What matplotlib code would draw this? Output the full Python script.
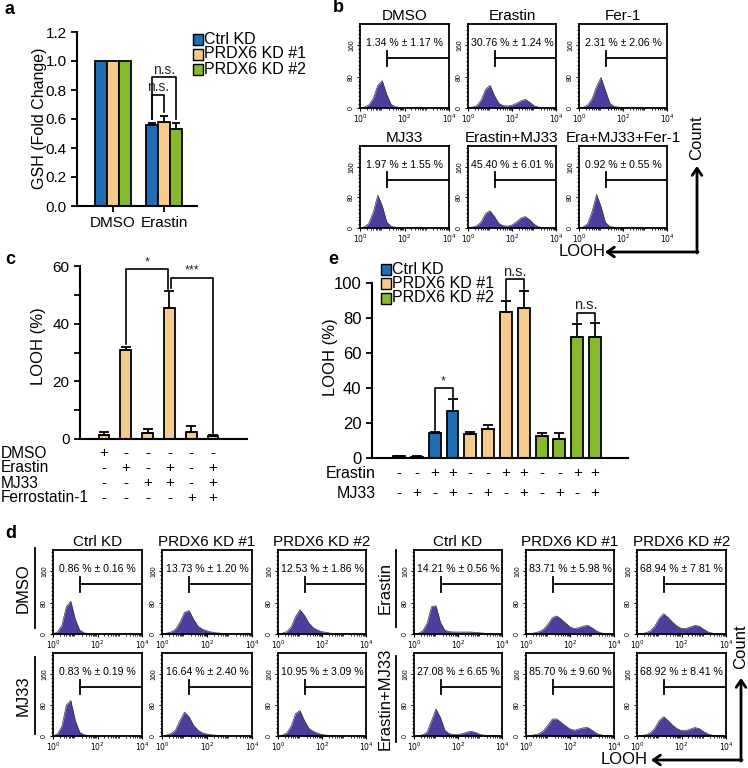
import numpy as np
import matplotlib.pyplot as plt
from matplotlib.patches import Rectangle
from matplotlib.transforms import blended_transform_factory as blend
from matplotlib.ticker import FixedLocator, LogLocator, NullFormatter

plt.rcParams['font.family'] = ['Liberation Sans', 'DejaVu Sans']

# ---- data ----
groups = ['Ctrl KD', 'PRDX6 KD #1', 'PRDX6 KD #2']
colors = ['#1f6db3', '#f4cb8b', '#86b92c']

# a: GSH fold change
gsh_treat = ['DMSO', 'Erastin']
gsh_mean = [[1.0, 1.0, 1.0], [0.56, 0.58, 0.53]]
gsh_err = [[0, 0, 0], [0.01, 0.04, 0.045]]

# b / c: LOOH (%) with inhibitors
c_names = ['DMSO', 'Erastin', 'MJ33', 'Erastin+MJ33', 'Fer-1', 'Era+MJ33+Fer-1']
c_mean = [1.34, 30.76, 1.97, 45.40, 2.31, 0.92]
c_sd = [1.17, 1.24, 1.55, 6.01, 2.06, 0.55]
c_rows = ['DMSO', 'Erastin', 'MJ33', 'Ferrostatin-1']
c_signs = [['+', '-', '-', '-', '-', '-'],
           ['-', '+', '-', '+', '-', '+'],
           ['-', '-', '+', '+', '-', '+'],
           ['-', '-', '-', '-', '+', '+']]
b_order = [0, 1, 4, 2, 3, 5]

# d / e: LOOH (%) per knockdown; conditions DMSO, MJ33, Erastin, Erastin+MJ33
e_mean = [[0.86, 0.83, 14.21, 27.08],
          [13.73, 16.64, 83.71, 85.70],
          [12.53, 10.95, 68.94, 68.92]]
e_sd = [[0.16, 0.19, 0.56, 6.65],
        [1.20, 2.40, 5.98, 9.60],
        [1.86, 3.09, 7.81, 8.41]]
e_erastin = ['-', '-', '+', '+']
e_mj33 = ['-', '+', '-', '+']

# flow histograms: counts at log10(LOOH) = 0, 0.2, ..., 4.0
hist_grid = np.linspace(0, 4, 21)
hist_c = [
    [0, 2, 8, 25, 58, 70, 35, 9, 3, 1, 0, 0, 0, 0, 0, 0, 0, 0, 0, 0, 0],
    [0, 2, 6, 20, 48, 58, 32, 12, 6, 5, 7, 12, 18, 22, 15, 6, 2, 1, 0, 0, 0],
    [0, 3, 12, 42, 86, 58, 16, 4, 2, 1, 0, 0, 0, 0, 0, 0, 0, 0, 0, 0, 0],
    [0, 2, 6, 16, 38, 45, 30, 12, 6, 5, 8, 16, 26, 30, 22, 10, 3, 1, 0, 0, 0],
    [0, 2, 8, 24, 55, 78, 45, 12, 4, 2, 1, 0, 0, 0, 0, 0, 0, 0, 0, 0, 0],
    [0, 3, 12, 44, 88, 56, 15, 4, 2, 1, 0, 0, 0, 0, 0, 0, 0, 0, 0, 0, 0],
]
hist_d = [
    [[0, 5, 22, 70, 84, 38, 10, 3, 1, 0, 0, 0, 0, 0, 0, 0, 0, 0, 0, 0, 0],
     [0, 5, 25, 80, 92, 40, 10, 3, 1, 0, 0, 0, 0, 0, 0, 0, 0, 0, 0, 0, 0],
     [0, 2, 8, 28, 70, 72, 30, 10, 6, 5, 5, 5, 5, 5, 4, 3, 2, 1, 0, 0, 0],
     [0, 1, 3, 10, 40, 70, 48, 15, 6, 4, 4, 6, 10, 12, 9, 4, 2, 1, 0, 0, 0]],
    [[0, 2, 5, 12, 30, 55, 60, 38, 20, 12, 8, 5, 3, 2, 1, 0, 0, 0, 0, 0, 0],
     [0, 2, 6, 15, 40, 62, 50, 28, 15, 8, 5, 3, 2, 1, 0, 0, 0, 0, 0, 0, 0],
     [0, 1, 3, 6, 12, 25, 42, 46, 38, 28, 18, 14, 16, 20, 22, 16, 8, 3, 1, 0, 0],
     [0, 1, 3, 6, 14, 28, 44, 44, 35, 26, 18, 15, 18, 21, 22, 15, 7, 3, 1, 0, 0]],
    [[0, 2, 6, 18, 45, 62, 48, 28, 16, 10, 6, 4, 2, 1, 0, 0, 0, 0, 0, 0, 0],
     [0, 2, 8, 25, 58, 66, 40, 20, 12, 7, 4, 2, 1, 0, 0, 0, 0, 0, 0, 0, 0],
     [0, 1, 3, 8, 20, 40, 52, 42, 30, 20, 14, 14, 18, 22, 20, 12, 5, 2, 1, 0, 0],
     [0, 1, 3, 8, 20, 40, 50, 40, 28, 19, 14, 14, 18, 22, 19, 11, 5, 2, 1, 0, 0]],
]

W, H = 748, 768
fig = plt.figure(figsize=(W / 100, H / 100), dpi=100)
ov = fig.add_axes([0, 0, 1, 1])
ov.set_xlim(0, W)
ov.set_ylim(H, 0)
ov.axis('off')
ov.set_zorder(10)


def px_axes(x0, y0, x1, y1):
    return fig.add_axes([x0 / W, 1 - y1 / H, (x1 - x0) / W, (y1 - y0) / H])


def bar_style(ax):
    for s in ['top', 'right']:
        ax.spines[s].set_visible(False)
    for s in ['left', 'bottom']:
        ax.spines[s].set_linewidth(1.5)
    ax.tick_params(width=1.3, length=4, labelsize=11)


def bracket(ax, x1, x2, top, y1, y2, label, fs=10, dy=1.0):
    ax.plot([x1, x1, x2, x2], [y1, top, top, y2], color='k', lw=1.2, clip_on=False)
    ax.text((x1 + x2) / 2, top + dy, label, ha='center', va='bottom', fontsize=fs, color='#222')


def flow(ax, counts, label, title):
    x = 10 ** hist_grid
    ax.fill_between(x, counts, color='#4f3d9d', lw=0)
    ax.plot(x, counts, color='#333333', lw=0.5)
    ax.set_xscale('log')
    ax.set_xlim(1, 1e4)
    ax.set_ylim(0, 215)
    ax.set_yticks([0, 80, 160])
    ax.set_yticklabels(['0', '80', '160'], rotation=90, va='center', fontsize=5)
    ax.yaxis.set_minor_locator(FixedLocator(range(0, 215, 10)))
    ax.set_xticks([1, 100, 1e4])
    ax.set_xticklabels(['$10^0$', '$10^2$', '$10^4$'], fontsize=5.5)
    ax.xaxis.set_minor_locator(LogLocator(base=10, subs=range(2, 10), numticks=20))
    ax.xaxis.set_minor_formatter(NullFormatter())
    ax.tick_params(length=2.5, width=0.8, pad=1)
    ax.tick_params(which='minor', length=1.5, width=0.6)
    for s in ax.spines.values():
        s.set_linewidth(1.3)
    ax.text(0.5, 0.77, label, transform=ax.transAxes, ha='center', va='center', fontsize=7.6)
    gx = 10 ** 1.22
    ax.plot([gx, 1e4], [127, 127], color='k', lw=1.3)
    ax.plot([gx, gx], [108, 146], color='k', lw=1.3)
    ax.set_title(title, fontsize=11, pad=3)


def fmt(m, s):
    return '%.2f %% \u00b1 %.2f %%' % (m, s)


# ---- panel a ----
axa = px_axes(77, 32, 197, 206)
bw = 0.235
for g in range(3):
    xs = [t + (g - 1) * bw for t in range(2)]
    vals = [gsh_mean[t][g] for t in range(2)]
    errs = [gsh_err[t][g] for t in range(2)]
    axa.bar(xs, vals, width=bw, color=colors[g], edgecolor='k', lw=1.3)
    axa.errorbar(xs[1], vals[1], yerr=[[0], [errs[1]]], fmt='none', ecolor='k', elinewidth=1.3, capsize=3, capthick=1.3)
axa.set_xlim(-0.71, 1.65)
axa.set_ylim(0, 1.2)
axa.set_yticks([0, 0.2, 0.4, 0.6, 0.8, 1.0, 1.2])
axa.set_yticklabels(['0.0', '0.2', '0.4', '0.6', '0.8', '1.0', '1.2'])
axa.set_xticks([0, 1])
axa.set_xticklabels(gsh_treat, fontsize=11.5)
bar_style(axa)
bracket(axa, 1 - bw, 1 + bw, 0.887, 0.60, 0.60, 'n.s.', dy=0.005)
bracket(axa, 1 - bw, 1, 0.765, 0.60, 0.65, 'n.s.', dy=0.005)
ov.text(40, 118, 'GSH (Fold Change)', rotation=90, ha='center', va='center', fontsize=11.5)
for g in range(3):
    y = 39 + 15 * g
    ov.add_patch(Rectangle((193, y - 5.5), 10, 11, fc=colors[g], ec='k', lw=1))
    ov.text(204, y, groups[g], va='center', fontsize=11.5)

# ---- panel b ----
b_cols = [(360, 449), (468, 556), (579, 667)]
b_rows = [(24, 108), (146, 228)]
for i, ci in enumerate(b_order):
    x0, x1 = b_cols[i % 3]
    y0, y1 = b_rows[i // 3]
    ax = px_axes(x0, y0, x1, y1)
    flow(ax, hist_c[ci], fmt(c_mean[ci], c_sd[ci]), c_names[ci])

# ---- panel c ----
axc = px_axes(80, 266, 247, 439)
xc = np.arange(len(c_mean))
axc.bar(xc, c_mean, width=0.5, color=colors[1], edgecolor='k', lw=1.3)
axc.errorbar(xc, c_mean, yerr=[np.zeros(len(c_sd)), c_sd], fmt='none', ecolor='k', elinewidth=1.3, capsize=3.5, capthick=1.3)
axc.set_xlim(-1.1, 6.56)
axc.set_ylim(0, 60)
axc.set_yticks([0, 20, 40, 60])
axc.yaxis.set_minor_locator(FixedLocator([10, 30, 50]))
axc.set_xticks([])
bar_style(axc)
axc.tick_params(which='minor', length=4, width=1.3)
bracket(axc, 1, 2.93, 59, 33, 52, '*', fs=9, dy=0.3)
bracket(axc, 3.07, 5, 56, 52.5, 2.2, '***', fs=9, dy=0.3)
ov.text(39, 346, 'LOOH (%)', rotation=90, ha='center', va='center', fontsize=12)
tc = blend(axc.transData, ov.transData)
for r, name in enumerate(c_rows):
    y = 453 + 15 * r
    ov.text(1, y, name, va='center', ha='left', fontsize=11.2)
    for k in range(len(c_mean)):
        axc.text(xc[k], y, c_signs[r][k], transform=tc, ha='center', va='center', fontsize=11, clip_on=False)

# ---- panel e ----
axe = px_axes(372, 283, 628, 458)
for g in range(3):
    xs = [4 * g + k for k in range(4)]
    axe.bar(xs, e_mean[g], width=0.67, color=colors[g], edgecolor='k', lw=1.3)
    axe.errorbar(xs, e_mean[g], yerr=[[0] * 4, e_sd[g]], fmt='none', ecolor='k', elinewidth=1.3, capsize=3.5, capthick=1.3)
axe.set_xlim(-1.52, 12.85)
axe.set_ylim(0, 100)
axe.set_yticks([0, 20, 40, 60, 80, 100])
axe.set_xticks([])
bar_style(axe)
axe.tick_params(labelsize=12)
bracket(axe, 2, 3, 40, 16, 34.5, '*', fs=9, dy=0.5)
bracket(axe, 6, 7, 102, 91, 96.5, 'n.s.', fs=10.5, dy=0.5)
bracket(axe, 10, 11, 83, 77.5, 78, 'n.s.', fs=10.5, dy=0.5)
ov.text(331, 357, 'LOOH (%)', rotation=90, ha='center', va='center', fontsize=12)
te = blend(axe.transData, ov.transData)
ov.text(376, 473, 'Erastin', ha='right', va='center', fontsize=11.5)
ov.text(376, 493, 'MJ33', ha='right', va='center', fontsize=11.5)
for g in range(3):
    for k in range(4):
        axe.text(4 * g + k, 473, e_erastin[k], transform=te, ha='center', va='center', fontsize=11, clip_on=False)
        axe.text(4 * g + k, 493, e_mj33[k], transform=te, ha='center', va='center', fontsize=11, clip_on=False)
for g in range(3):
    y = 269 + 14.5 * g
    ov.add_patch(Rectangle((381, y - 5.5), 10, 11, fc=colors[g], ec='k', lw=1))
    ov.text(392, y, groups[g], va='center', fontsize=11.5)

# ---- panel d ----
d_cols = [(53, 142), (162, 252), (278, 366), (414, 502), (526, 614), (637, 726)]
d_rows = [(550, 634), (653, 736)]
for blk in range(2):
    for r in range(2):
        cond = 2 * blk + r
        for g in range(3):
            x0, x1 = d_cols[3 * blk + g]
            y0, y1 = d_rows[r]
            ax = px_axes(x0, y0, x1, y1)
            flow(ax, hist_d[g][cond], fmt(e_mean[g][cond], e_sd[g][cond]), groups[g] if r == 0 else '')

row_lab = [('DMSO', 23, 35, 548, 628), ('MJ33', 23, 35, 657, 734),
           ('Erastin', 385, 396, 550, 627), ('Erastin+MJ33', 385, 396, 656, 742)]
for txt, tx, lx, ya, yb in row_lab:
    ov.text(tx, (ya + yb) / 2, txt, rotation=90, ha='center', va='center', fontsize=12)
    ov.plot([lx, lx], [ya, yb], color='k', lw=1.3)

# ---- axis arrows ----
aprops = dict(arrowstyle='->,head_length=0.5,head_width=0.35', lw=2, color='k', shrinkA=0, shrinkB=0)
for cx, cy, ty, lx, ctext_y, ltext_x in [(697, 252, 166, 605, 138, 582), (741, 760, 678, 651, 647, 624)]:
    ov.annotate('', xy=(cx, ty), xytext=(cx, cy + 1), arrowprops=aprops)
    ov.annotate('', xy=(lx, cy), xytext=(cx + 1, cy), arrowprops=aprops)
    ov.text(cx, ctext_y, 'Count', rotation=90, ha='center', va='center', fontsize=12)
    ov.text(ltext_x, cy, 'LOOH', ha='center', va='center', fontsize=12)

# panel letters
for lab, x, y in [('a', 5, 10), ('b', 333, 8), ('c', 5, 260), ('d', 5, 533), ('e', 328, 260)]:
    ov.text(x, y, lab, fontsize=13, fontweight='bold', ha='left', va='center')

fig.savefig('out.png', dpi=100)
